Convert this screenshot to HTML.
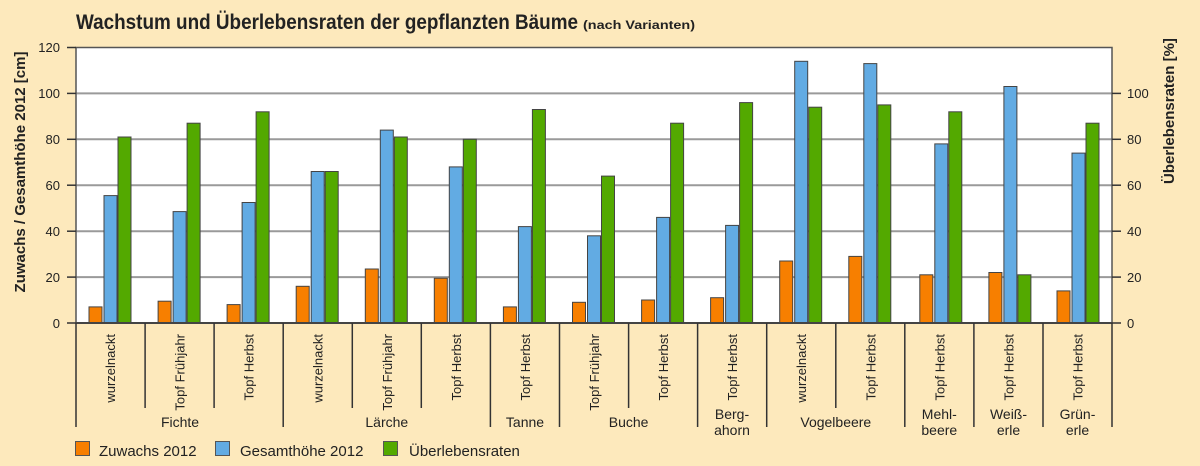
<!DOCTYPE html>
<html><head><meta charset="utf-8"><style>
html,body{margin:0;padding:0;background:#fde9bc;}
svg{display:block;font-family:"Liberation Sans",sans-serif;}
</style></head><body>
<svg width="1200" height="466" viewBox="0 0 1200 466" xmlns="http://www.w3.org/2000/svg">
<rect width="1200" height="466" fill="#fde9bc"/>
<text x="76" y="29" font-size="21" font-weight="bold" fill="#222" textLength="502" lengthAdjust="spacingAndGlyphs">Wachstum und Überlebensraten der gepflanzten Bäume</text>
<text x="583" y="29" font-size="12" font-weight="bold" fill="#222" textLength="112" lengthAdjust="spacingAndGlyphs">(nach Varianten)</text>
<rect x="76" y="47.5" width="1036" height="275.5" fill="#fff"/>
<g stroke="#9a9a9a" stroke-width="2">
<line x1="76" x2="1112" y1="277.1" y2="277.1"/>
<line x1="76" x2="1112" y1="231.2" y2="231.2"/>
<line x1="76" x2="1112" y1="185.2" y2="185.2"/>
<line x1="76" x2="1112" y1="139.3" y2="139.3"/>
<line x1="76" x2="1112" y1="93.4" y2="93.4"/>
</g>
<rect x="76" y="47.5" width="1036" height="275.5" fill="none" stroke="#555" stroke-width="1.5"/>
<g stroke="#333" stroke-width="1.5">
<line x1="67" x2="76" y1="323" y2="323"/><line x1="67" x2="76" y1="277.1" y2="277.1"/><line x1="67" x2="76" y1="231.2" y2="231.2"/><line x1="67" x2="76" y1="185.2" y2="185.2"/><line x1="67" x2="76" y1="139.3" y2="139.3"/><line x1="67" x2="76" y1="93.4" y2="93.4"/><line x1="67" x2="76" y1="47.5" y2="47.5"/>
<line x1="1112" x2="1121" y1="323" y2="323"/><line x1="1112" x2="1121" y1="277.1" y2="277.1"/><line x1="1112" x2="1121" y1="231.2" y2="231.2"/><line x1="1112" x2="1121" y1="185.2" y2="185.2"/><line x1="1112" x2="1121" y1="139.3" y2="139.3"/><line x1="1112" x2="1121" y1="93.4" y2="93.4"/>
</g>
<g font-size="13" fill="#222" text-anchor="end">
<text x="60" y="328">0</text><text x="60" y="282">20</text><text x="60" y="236">40</text><text x="60" y="190">60</text><text x="60" y="144">80</text><text x="60" y="98">100</text><text x="60" y="52">120</text>
</g>
<g font-size="13" fill="#222">
<text x="1127" y="328">0</text><text x="1127" y="282">20</text><text x="1127" y="236">40</text><text x="1127" y="190">60</text><text x="1127" y="144">80</text><text x="1127" y="98">100</text>
</g>
<text transform="translate(25,172) rotate(-90)" text-anchor="middle" font-size="15" font-weight="bold" fill="#222">Zuwachs / Gesamthöhe 2012 [cm]</text>
<text transform="translate(1174,111) rotate(-90)" text-anchor="middle" font-size="15" font-weight="bold" fill="#222">Überlebensraten [%]</text>

<g stroke="#444" stroke-width="1">
<g transform="translate(76,0)"><rect x="13" y="306.9" width="13" height="16.1" fill="#f77f00"/><rect x="28" y="195.6" width="13" height="127.4" fill="#62abe3"/><rect x="42" y="137" width="13" height="186" fill="#53a900"/></g>
<g transform="translate(145.1,0)"><rect x="13" y="301.2" width="13" height="21.8" fill="#f77f00"/><rect x="28" y="211.6" width="13" height="111.4" fill="#62abe3"/><rect x="42" y="123.2" width="13" height="199.8" fill="#53a900"/></g>
<g transform="translate(214.1,0)"><rect x="13" y="304.6" width="13" height="18.4" fill="#f77f00"/><rect x="28" y="202.5" width="13" height="120.5" fill="#62abe3"/><rect x="42" y="111.8" width="13" height="211.2" fill="#53a900"/></g>
<g transform="translate(283.2,0)"><rect x="13" y="286.3" width="13" height="36.7" fill="#f77f00"/><rect x="28" y="171.5" width="13" height="151.5" fill="#62abe3"/><rect x="42" y="171.5" width="13" height="151.5" fill="#53a900"/></g>
<g transform="translate(352.3,0)"><rect x="13" y="269" width="13" height="54" fill="#f77f00"/><rect x="28" y="130.1" width="13" height="192.9" fill="#62abe3"/><rect x="42" y="137" width="13" height="186" fill="#53a900"/></g>
<g transform="translate(421.3,0)"><rect x="13" y="278.2" width="13" height="44.8" fill="#f77f00"/><rect x="28" y="166.9" width="13" height="156.1" fill="#62abe3"/><rect x="42" y="139.3" width="13" height="183.7" fill="#53a900"/></g>
<g transform="translate(490.4,0)"><rect x="13" y="306.9" width="13" height="16.1" fill="#f77f00"/><rect x="28" y="226.6" width="13" height="96.4" fill="#62abe3"/><rect x="42" y="109.5" width="13" height="213.5" fill="#53a900"/></g>
<g transform="translate(559.5,0)"><rect x="13" y="302.3" width="13" height="20.7" fill="#f77f00"/><rect x="28" y="235.8" width="13" height="87.2" fill="#62abe3"/><rect x="42" y="176.1" width="13" height="146.9" fill="#53a900"/></g>
<g transform="translate(628.6,0)"><rect x="13" y="300" width="13" height="23" fill="#f77f00"/><rect x="28" y="217.4" width="13" height="105.6" fill="#62abe3"/><rect x="42" y="123.2" width="13" height="199.8" fill="#53a900"/></g>
<g transform="translate(697.6,0)"><rect x="13" y="297.7" width="13" height="25.3" fill="#f77f00"/><rect x="28" y="225.4" width="13" height="97.6" fill="#62abe3"/><rect x="42" y="102.6" width="13" height="220.4" fill="#53a900"/></g>
<g transform="translate(766.7,0)"><rect x="13" y="261" width="13" height="62" fill="#f77f00"/><rect x="28" y="61.3" width="13" height="261.7" fill="#62abe3"/><rect x="42" y="107.2" width="13" height="215.8" fill="#53a900"/></g>
<g transform="translate(835.8,0)"><rect x="13" y="256.4" width="13" height="66.6" fill="#f77f00"/><rect x="28" y="63.6" width="13" height="259.4" fill="#62abe3"/><rect x="42" y="104.9" width="13" height="218.1" fill="#53a900"/></g>
<g transform="translate(904.8,0)"><rect x="15" y="274.8" width="13" height="48.2" fill="#f77f00"/><rect x="30" y="143.9" width="13" height="179.1" fill="#62abe3"/><rect x="44" y="111.8" width="13" height="211.2" fill="#53a900"/></g>
<g transform="translate(973.9,0)"><rect x="15" y="272.5" width="13" height="50.5" fill="#f77f00"/><rect x="30" y="86.5" width="13" height="236.5" fill="#62abe3"/><rect x="44" y="274.8" width="13" height="48.2" fill="#53a900"/></g>
<g transform="translate(1043,0)"><rect x="14" y="290.9" width="13" height="32.1" fill="#f77f00"/><rect x="29" y="153.1" width="13" height="169.9" fill="#62abe3"/><rect x="43" y="123.2" width="13" height="199.8" fill="#53a900"/></g>
</g>
<line x1="76" x2="1112" y1="323" y2="323" stroke="#444" stroke-width="2"/>

<g stroke="#333" stroke-width="1.5">
<line x1="76" x2="76" y1="323" y2="427"/>
<line x1="145.1" x2="145.1" y1="323" y2="408"/>
<line x1="214.1" x2="214.1" y1="323" y2="408"/>
<line x1="283.2" x2="283.2" y1="323" y2="427"/>
<line x1="352.3" x2="352.3" y1="323" y2="408"/>
<line x1="421.3" x2="421.3" y1="323" y2="408"/>
<line x1="490.4" x2="490.4" y1="323" y2="427"/>
<line x1="559.5" x2="559.5" y1="323" y2="427"/>
<line x1="628.6" x2="628.6" y1="323" y2="408"/>
<line x1="697.6" x2="697.6" y1="323" y2="427"/>
<line x1="766.7" x2="766.7" y1="323" y2="427"/>
<line x1="835.8" x2="835.8" y1="323" y2="408"/>
<line x1="904.8" x2="904.8" y1="323" y2="427"/>
<line x1="973.9" x2="973.9" y1="323" y2="427"/>
<line x1="1043" x2="1043" y1="323" y2="427"/>
<line x1="1112" x2="1112" y1="323" y2="427"/>
</g>
<g font-size="13" fill="#222" text-anchor="end">
<text transform="translate(115,334) rotate(-90)">wurzelnackt</text>
<text transform="translate(184.6,334) rotate(-90)">Topf Frühjahr</text>
<text transform="translate(253.6,334) rotate(-90)">Topf Herbst</text>
<text transform="translate(322.7,334) rotate(-90)">wurzelnackt</text>
<text transform="translate(391.8,334) rotate(-90)">Topf Frühjahr</text>
<text transform="translate(460.8,334) rotate(-90)">Topf Herbst</text>
<text transform="translate(529.9,334) rotate(-90)">Topf Herbst</text>
<text transform="translate(599,334) rotate(-90)">Topf Frühjahr</text>
<text transform="translate(668.1,334) rotate(-90)">Topf Herbst</text>
<text transform="translate(737.1,334) rotate(-90)">Topf Herbst</text>
<text transform="translate(806.2,334) rotate(-90)">wurzelnackt</text>
<text transform="translate(875.3,334) rotate(-90)">Topf Herbst</text>
<text transform="translate(944.3,334) rotate(-90)">Topf Herbst</text>
<text transform="translate(1013.4,334) rotate(-90)">Topf Herbst</text>
<text transform="translate(1082.5,334) rotate(-90)">Topf Herbst</text>
</g>
<g font-size="14" fill="#222" text-anchor="middle">
<text x="180" y="427">Fichte</text>
<text x="386.8" y="427">Lärche</text>
<text x="525" y="427">Tanne</text>
<text x="628.6" y="427">Buche</text>
<text x="732" y="419">Berg-</text><text x="732" y="435">ahorn</text>
<text x="835.8" y="427">Vogelbeere</text>
<text x="939.3" y="419">Mehl-</text><text x="939.3" y="435">beere</text>
<text x="1008.5" y="419">Weiß-</text><text x="1008.5" y="435">erle</text>
<text x="1077.5" y="419">Grün-</text><text x="1077.5" y="435">erle</text>
</g>
<g stroke="#555" stroke-width="1">
<rect x="75.5" y="441.5" width="14" height="14" fill="#f77f00"/>
<rect x="215.5" y="441.5" width="14" height="14" fill="#62abe3"/>
<rect x="383.5" y="441.5" width="14" height="14" fill="#53a900"/>
</g>
<g font-size="15" fill="#222">
<text x="99" y="456">Zuwachs 2012</text>
<text x="240" y="456">Gesamthöhe 2012</text>
<text x="409" y="456">Überlebensraten</text>
</g>
</svg>
</body></html>
